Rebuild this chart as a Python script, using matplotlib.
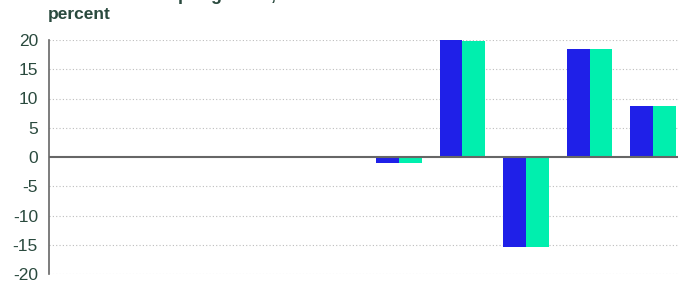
import numpy as np
import matplotlib
matplotlib.use("Agg")
import matplotlib.pyplot as plt

# data (first five slots carry no bars)
categories = ["c1", "c2", "c3", "c4", "c5", "c6", "c7", "c8", "c9", "c10"]
series_a = [np.nan, np.nan, np.nan, np.nan, np.nan, -1.0, 20.0, -15.4, 18.5, 8.8]
series_b = [np.nan, np.nan, np.nan, np.nan, np.nan, -1.0, 19.8, -15.4, 18.5, 8.8]
yticks = [-20, -15, -10, -5, 0, 5, 10, 15, 20]

BLUE = "#1f20e8"
GREEN = "#00efae"
TEXT = "#2a4a3e"

plt.rcParams["font.family"] = ["Liberation Sans", "DejaVu Sans"]

fig = plt.figure(figsize=(6.78, 2.82), dpi=100)
W, H = 678, 282
ax = fig.add_axes([49 / W, 1 - 274 / H, 636 / W, 234 / H])

x = np.arange(len(categories))
bw = 0.36
ax.bar(x - bw / 2, series_a, width=bw, color=BLUE, zorder=3)
ax.bar(x + bw / 2, series_b, width=bw, color=GREEN, zorder=3)

ax.set_xlim(-0.5, len(categories) - 0.5)
ax.set_ylim(-20, 20)
ax.set_yticks(yticks)
ax.set_yticklabels([str(t) for t in yticks], fontsize=12.5, color=TEXT)
ax.set_xticks([])
ax.tick_params(axis="y", length=0, pad=8)

for t in yticks:
    if t != 0:
        ax.axhline(t, color="#bdbdbd", lw=0.8, ls=(0, (1, 2)), zorder=1)
ax.axhline(0, color="#666666", lw=1.5, zorder=4)

for s in ["top", "right", "bottom"]:
    ax.spines[s].set_visible(False)
ax.spines["left"].set_color("#666666")
ax.spines["left"].set_linewidth(1.2)

fig.text(48 / W, 1 - 19 / H, "percent", fontsize=12.5, fontweight="bold",
         color=TEXT, va="baseline")
# title sits almost wholly above the visible frame, as in the reference
fig.text(5 / W, 1 - 0.5 / H, "Contributions to output growth, forecast", fontsize=13,
         fontweight="bold", color=TEXT, va="baseline")

fig.savefig("out.png", dpi=100)
